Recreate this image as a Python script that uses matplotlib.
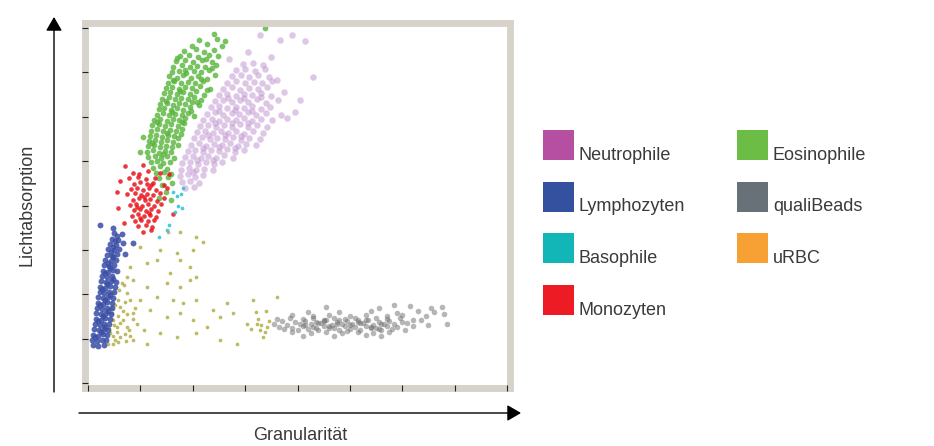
import numpy as np
import matplotlib
matplotlib.use("Agg")
import matplotlib.pyplot as plt
from matplotlib.patches import Rectangle, FancyArrowPatch

plt.rcParams['font.family'] = ['Liberation Sans', 'DejaVu Sans']

# Punktwolken (Granularität, Lichtabsorption)
eosinophile = [
    (2.40, 7.86), (2.12, 7.73), (2.47, 7.76), (2.62, 7.70), (3.38, 8.00),
    (1.98, 7.60), (2.28, 7.64), (2.55, 7.59),
    (1.84, 7.48), (2.06, 7.52), (2.22, 7.47), (2.40, 7.51),
    (1.76, 7.37), (1.93, 7.40), (2.10, 7.35), (2.31, 7.39), (2.49, 7.36),
    (1.68, 7.25), (1.86, 7.28), (2.01, 7.23), (2.17, 7.27), (2.36, 7.24),
    (1.63, 7.13), (1.79, 7.16), (1.95, 7.11), (2.08, 7.15), (2.24, 7.12), (2.45, 7.17),
    (1.60, 7.01), (1.73, 7.04), (1.88, 6.99), (2.02, 7.03), (2.15, 7.00), (2.31, 7.05),
    (1.55, 6.92), (1.69, 6.87), (1.82, 6.93), (1.96, 6.88), (2.10, 6.91), (2.27, 6.86), (2.42, 6.94),
    (1.52, 6.77), (1.64, 6.80), (1.77, 6.75), (1.90, 6.79), (2.04, 6.76), (2.19, 6.81),
    (1.48, 6.65), (1.60, 6.68), (1.73, 6.63), (1.86, 6.67), (1.99, 6.64), (2.13, 6.69), (2.33, 6.62),
    (1.45, 6.53), (1.57, 6.56), (1.69, 6.51), (1.81, 6.55), (1.94, 6.52), (2.07, 6.57), (2.22, 6.50),
    (1.42, 6.41), (1.54, 6.44), (1.66, 6.39), (1.78, 6.43), (1.90, 6.40), (2.03, 6.45), (2.15, 6.38),
    (1.38, 6.29), (1.50, 6.32), (1.62, 6.27), (1.74, 6.31), (1.86, 6.28), (1.98, 6.33), (2.12, 6.26),
    (1.35, 6.17), (1.46, 6.20), (1.58, 6.15), (1.70, 6.19), (1.82, 6.16), (1.94, 6.21),
    (1.31, 6.05), (1.43, 6.08), (1.55, 6.03), (1.67, 6.07), (1.79, 6.04), (1.91, 6.09), (2.02, 6.02),
    (1.26, 5.93), (1.38, 5.96), (1.50, 5.91), (1.62, 5.95), (1.74, 5.92), (1.86, 5.97),
    (1.23, 5.81), (1.35, 5.84), (1.47, 5.79), (1.59, 5.83), (1.71, 5.80), (1.83, 5.85),
    (1.20, 5.69), (1.32, 5.72), (1.44, 5.67), (1.56, 5.71), (1.68, 5.68), (1.80, 5.73),
    (1.18, 5.57), (1.30, 5.60), (1.42, 5.55), (1.53, 5.59), (1.65, 5.56), (1.77, 5.61),
    (1.16, 5.45), (1.28, 5.48), (1.39, 5.43), (1.51, 5.47), (1.62, 5.44),
    (1.14, 5.33), (1.26, 5.36), (1.37, 5.31), (1.49, 5.35), (1.60, 5.32), (1.72, 5.37),
    (1.12, 5.21), (1.24, 5.24), (1.35, 5.19), (1.47, 5.23), (1.58, 5.20), (1.00, 5.20),
    (1.15, 5.09), (1.27, 5.12), (1.39, 5.07), (1.51, 5.11), (1.64, 5.08),
    (1.20, 4.97), (1.32, 5.00), (1.44, 4.95), (1.56, 4.99),
    (1.25, 4.85), (1.38, 4.88), (1.50, 4.83),
    (1.30, 4.73), (1.45, 4.76), (1.58, 4.71),
    (1.36, 4.61), (1.52, 4.64), (1.42, 4.47), (1.60, 4.50),
    (1.48, 4.30), (1.35, 4.16), (1.58, 4.13), (1.05, 5.55),
    # Zwischenpunkte im dichten Kern
    (1.70, 7.32), (2.25, 7.31), (1.86, 7.06), (2.37, 7.09), (1.62, 6.83), (2.15, 6.84),
    (1.75, 6.58), (2.28, 6.60), (1.48, 6.35), (2.08, 6.34), (1.61, 6.11), (1.97, 6.12),
    (1.32, 5.88), (1.80, 5.89), (1.50, 5.63), (1.72, 5.51), (1.22, 5.40), (1.43, 5.15),
]

neutrophile = [
    (2.95, 7.19), (3.15, 7.22), (3.35, 7.17),
    (2.82, 7.05), (3.00, 7.08), (3.18, 7.03), (3.38, 7.07),
    (2.74, 6.91), (2.92, 6.94), (3.08, 6.89), (3.25, 6.93), (3.45, 6.90),
    (2.66, 6.77), (2.83, 6.80), (2.99, 6.75), (3.16, 6.79), (3.33, 6.76), (3.52, 6.81),
    (2.58, 6.63), (2.75, 6.66), (2.91, 6.61), (3.07, 6.65), (3.24, 6.62), (3.41, 6.67),
    (2.50, 6.49), (2.66, 6.52), (2.82, 6.47), (2.98, 6.51), (3.14, 6.48), (3.30, 6.53), (3.50, 6.46),
    (2.42, 6.35), (2.58, 6.38), (2.74, 6.33), (2.90, 6.37), (3.06, 6.34), (3.22, 6.39), (3.40, 6.32), (3.62, 6.37),
    (2.35, 6.21), (2.50, 6.24), (2.66, 6.19), (2.82, 6.23), (2.97, 6.20), (3.13, 6.25), (3.30, 6.18), (3.48, 6.23),
    (2.28, 6.07), (2.43, 6.10), (2.58, 6.05), (2.74, 6.09), (2.89, 6.06), (3.05, 6.11), (3.21, 6.04), (3.40, 6.09), (3.68, 6.05),
    (2.20, 5.93), (2.36, 5.96), (2.51, 5.91), (2.66, 5.95), (2.82, 5.92), (2.97, 5.97), (3.13, 5.90), (3.30, 5.95), (3.52, 5.92),
    (2.14, 5.79), (2.29, 5.82), (2.44, 5.77), (2.59, 5.81), (2.74, 5.78), (2.90, 5.83), (3.05, 5.76), (3.22, 5.81), (3.42, 5.78),
    (2.08, 5.65), (2.23, 5.68), (2.38, 5.63), (2.53, 5.67), (2.68, 5.64), (2.83, 5.69), (2.98, 5.62), (3.15, 5.67), (3.35, 5.64),
    (2.02, 5.51), (2.17, 5.54), (2.32, 5.49), (2.47, 5.53), (2.62, 5.50), (2.77, 5.55), (2.92, 5.48), (3.08, 5.53), (3.28, 5.50),
    (1.96, 5.37), (2.11, 5.40), (2.26, 5.35), (2.41, 5.39), (2.56, 5.36), (2.71, 5.41), (2.86, 5.34), (3.02, 5.39), (3.20, 5.36),
    (1.90, 5.23), (2.05, 5.26), (2.20, 5.21), (2.35, 5.25), (2.50, 5.22), (2.65, 5.27), (2.80, 5.20), (2.97, 5.25),
    (1.85, 5.09), (2.00, 5.12), (2.15, 5.07), (2.30, 5.11), (2.45, 5.08), (2.60, 5.13), (2.76, 5.06),
    (1.80, 4.95), (1.95, 4.98), (2.10, 4.93), (2.25, 4.97), (2.40, 4.94), (2.56, 4.99),
    (1.77, 4.81), (1.92, 4.84), (2.07, 4.79), (2.22, 4.83), (2.38, 4.80),
    (1.76, 4.67), (1.90, 4.70), (2.05, 4.65), (2.20, 4.69),
    (1.80, 4.53), (1.95, 4.56), (2.12, 4.51), (1.86, 4.39), (2.02, 4.42),
    (3.66, 7.73), (3.90, 7.84), (3.80, 5.97), (3.60, 6.82), (4.05, 6.37), (4.14, 7.70),
    (3.28, 7.84), (4.30, 6.90), (3.05, 7.45), (3.50, 7.35), (2.70, 7.30), (3.75, 6.55), (3.95, 6.10),
    # Zwischenpunkte im dichten Kern
    (2.67, 6.42), (2.98, 6.43), (3.30, 6.44), (2.51, 6.14), (2.81, 6.15), (3.13, 6.13),
    (2.43, 5.86), (2.74, 5.87), (3.05, 5.85), (2.30, 5.58), (2.61, 5.59), (2.92, 5.57),
    (2.19, 5.30), (2.50, 5.31), (2.81, 5.29), (2.08, 5.02), (2.38, 5.03), (2.00, 4.75),
]

monozyten = [
    (0.70, 4.89), (1.05, 4.92), (0.85, 4.74), (1.15, 4.77), (1.38, 4.73), (0.98, 4.70),
    (0.78, 4.61), (0.95, 4.64), (1.10, 4.60), (1.28, 4.63),
    (0.88, 4.49), (1.00, 4.52), (1.12, 4.48), (1.25, 4.51), (1.45, 4.47), (1.20, 4.46),
    (0.82, 4.37), (0.94, 4.40), (1.05, 4.36), (1.17, 4.39), (1.30, 4.35), (1.50, 4.40),
    (0.75, 4.25), (0.90, 4.28), (1.01, 4.24), (1.12, 4.27), (1.24, 4.23), (1.37, 4.28), (1.06, 4.20),
    (0.86, 4.13), (0.97, 4.16), (1.08, 4.12), (1.19, 4.15), (1.31, 4.11), (1.45, 4.16),
    (0.80, 4.01), (0.92, 4.04), (1.03, 4.00), (1.14, 4.03), (1.26, 3.99), (1.40, 4.04), (0.94, 3.97),
    (0.88, 3.89), (0.99, 3.92), (1.10, 3.88), (1.21, 3.91), (1.33, 3.87), (1.16, 3.84),
    (0.84, 3.77), (0.95, 3.80), (1.06, 3.76), (1.18, 3.79), (1.30, 3.75), (1.00, 3.72),
    (0.90, 3.65), (1.02, 3.68), (1.14, 3.64), (1.26, 3.67),
    (0.96, 3.53), (1.10, 3.56), (1.22, 3.52), (1.05, 3.41), (1.20, 3.44),
    (0.62, 4.55), (0.58, 3.95), (0.68, 3.60), (1.55, 4.70), (1.62, 3.80), (0.55, 4.30),
]

lymphozyten = [
    (0.10, 0.85), (0.20, 0.83), (0.30, 0.86), (0.08, 0.97), (0.17, 0.95), (0.26, 0.98), (0.35, 0.96),
    (0.14, 1.03), (0.10, 1.09), (0.19, 1.07), (0.28, 1.10), (0.37, 1.08), (0.24, 1.15),
    (0.12, 1.21), (0.21, 1.19), (0.30, 1.22), (0.39, 1.20), (0.33, 1.27),
    (0.13, 1.33), (0.22, 1.31), (0.31, 1.34), (0.40, 1.32), (0.20, 1.39),
    (0.15, 1.45), (0.24, 1.43), (0.33, 1.46), (0.42, 1.44), (0.29, 1.51),
    (0.16, 1.57), (0.25, 1.55), (0.34, 1.58), (0.43, 1.56), (0.38, 1.63),
    (0.18, 1.69), (0.27, 1.67), (0.36, 1.70), (0.45, 1.68), (0.23, 1.75),
    (0.19, 1.81), (0.28, 1.79), (0.37, 1.82), (0.46, 1.80), (0.33, 1.87),
    (0.20, 1.93), (0.29, 1.91), (0.38, 1.94), (0.48, 1.92), (0.42, 1.99),
    (0.22, 2.05), (0.31, 2.03), (0.40, 2.06), (0.50, 2.04), (0.27, 2.11),
    (0.23, 2.17), (0.32, 2.15), (0.42, 2.18), (0.52, 2.16), (0.37, 2.23),
    (0.25, 2.29), (0.34, 2.27), (0.44, 2.30), (0.54, 2.28), (0.47, 2.35),
    (0.27, 2.41), (0.36, 2.39), (0.46, 2.42), (0.32, 2.47),
    (0.29, 2.53), (0.38, 2.51), (0.48, 2.54), (0.56, 2.52), (0.42, 2.59),
    (0.31, 2.65), (0.40, 2.63), (0.50, 2.66), (0.38, 2.71),
    (0.33, 2.77), (0.43, 2.75), (0.53, 2.78), (0.48, 2.83),
    (0.36, 2.89), (0.46, 2.87), (0.56, 2.90), (0.44, 2.95),
    (0.39, 3.01), (0.49, 2.99), (0.60, 3.02), (0.47, 3.07),
    (0.42, 3.13), (0.53, 3.11), (0.52, 3.19), (0.46, 3.25), (0.58, 3.23), (0.55, 3.31),
    (0.50, 3.37), (0.64, 3.35), (0.48, 3.50),
    (0.23, 3.56), (0.67, 3.15), (0.86, 3.15), (0.70, 2.90),
]

basophile = [
    (1.62, 4.30), (1.70, 4.22), (1.78, 4.25), (1.72, 4.00), (1.80, 3.95),
    (1.66, 3.85), (1.55, 3.55), (1.50, 3.45), (1.82, 4.40), (1.36, 3.30),
]

urbc = [
    (1.53, 3.41), (1.76, 3.41), (2.07, 3.30), (2.20, 3.18), (1.37, 3.00), (1.69, 2.92),
    (2.01, 3.00), (0.99, 3.07), (1.12, 2.70), (0.80, 2.62), (1.31, 2.77), (1.76, 2.77),
    (1.95, 2.62), (1.56, 2.47), (2.07, 2.39), (0.86, 2.32), (1.12, 2.17), (1.50, 2.25),
    (1.76, 2.17), (1.95, 2.32), (0.74, 2.02), (0.99, 1.87), (1.31, 1.94), (1.63, 1.87),
    (1.82, 1.80), (2.07, 1.87), (2.39, 1.64), (2.65, 1.80), (3.15, 1.87), (3.60, 1.94),
    (0.61, 1.72), (0.86, 1.57), (1.18, 1.64), (1.50, 1.49), (1.76, 1.57), (2.01, 1.42),
    (2.27, 1.27), (2.52, 1.49), (2.77, 1.57), (3.03, 1.34), (3.28, 1.19), (0.48, 1.42),
    (0.74, 1.27), (1.06, 1.19), (1.37, 1.12), (1.69, 1.04), (2.07, 1.12), (2.52, 0.97),
    (2.84, 0.89), (0.61, 1.04), (0.86, 0.97), (1.12, 0.89), (0.48, 0.89), (0.42, 1.12),
    (0.55, 1.27), (0.45, 1.57), (0.67, 1.42), (0.58, 1.87), (0.48, 2.02), (0.64, 2.25),
    (0.74, 2.39), (0.52, 0.97), (0.39, 0.89), (0.80, 1.87), (0.93, 1.34), (3.41, 1.27),
    (3.22, 1.34), (3.35, 1.04), (0.55, 1.15), (0.62, 1.35), (0.70, 1.10), (0.50, 1.30),
    (0.58, 1.50), (0.66, 1.62), (0.52, 1.75), (0.75, 1.55), (0.70, 1.82), (0.60, 2.10),
    (0.44, 1.70), (0.78, 1.20), (0.85, 1.45), (0.72, 0.95), (0.57, 0.93), (0.90, 1.70),
    (0.68, 2.20), (0.40, 1.25), (0.47, 1.05), (0.80, 1.05), (3.25, 1.45), (3.30, 1.30),
    (3.38, 1.15), (3.45, 1.40), (3.20, 1.60), (3.40, 1.62), (3.12, 1.22),
]

qualibeads = [
    (4.20, 1.61), (4.80, 1.59), (5.40, 1.62), (5.90, 1.58), (6.30, 1.63), (6.60, 1.60),
    (4.55, 1.72), (5.55, 1.70), (6.15, 1.74), (6.55, 1.68), (6.75, 1.72), (5.85, 1.76),
    (3.90, 1.53), (4.30, 1.51), (4.60, 1.54), (5.00, 1.50), (5.30, 1.53), (5.70, 1.51),
    (6.00, 1.54), (6.45, 1.52), (6.80, 1.55),
    (3.60, 1.45), (3.85, 1.47), (4.10, 1.44), (4.30, 1.46), (4.50, 1.43), (4.70, 1.47),
    (4.90, 1.44), (5.10, 1.46), (5.30, 1.43), (5.50, 1.47), (5.70, 1.44), (5.95, 1.46), (6.20, 1.43),
    (3.70, 1.39), (3.95, 1.37), (4.15, 1.40), (4.35, 1.38), (4.55, 1.41), (4.75, 1.37),
    (4.95, 1.40), (5.15, 1.38), (5.35, 1.41), (5.55, 1.37), (5.75, 1.40), (6.00, 1.38), (6.35, 1.41),
    (3.55, 1.33), (3.80, 1.31), (4.05, 1.34), (4.25, 1.32), (4.45, 1.35), (4.65, 1.31),
    (4.85, 1.34), (5.05, 1.32), (5.25, 1.35), (5.45, 1.31), (5.65, 1.34), (5.85, 1.32),
    (6.10, 1.35), (6.50, 1.31), (6.85, 1.34),
    (3.65, 1.27), (3.90, 1.25), (4.10, 1.28), (4.30, 1.26), (4.50, 1.29), (4.70, 1.25),
    (4.90, 1.28), (5.10, 1.26), (5.30, 1.29), (5.50, 1.25), (5.70, 1.28), (5.90, 1.26), (6.20, 1.28),
    (3.75, 1.21), (4.00, 1.19), (4.20, 1.22), (4.40, 1.20), (4.60, 1.23), (4.80, 1.19),
    (5.00, 1.22), (5.20, 1.20), (5.40, 1.23), (5.60, 1.19), (5.80, 1.22), (6.05, 1.20),
    (3.90, 1.14), (4.25, 1.12), (4.55, 1.15), (4.85, 1.13), (5.15, 1.16), (5.45, 1.12), (5.75, 1.15),
    (4.10, 1.07), (4.70, 1.05), (5.30, 1.08), (5.60, 1.06),
    (4.15, 1.30), (4.40, 1.36), (4.60, 1.28), (4.80, 1.41), (5.00, 1.30), (5.20, 1.36),
    (5.40, 1.27), (5.60, 1.33), (4.35, 1.24), (4.75, 1.33), (5.15, 1.42), (5.55, 1.21),
    (4.95, 1.17), (4.50, 1.39),
]

legend_labels = ['Neutrophile', 'Lymphozyten', 'Basophile', 'Monozyten',
                 'Eosinophile', 'qualiBeads', 'uRBC']
legend_colors = ['#b64fa2', '#3451a0', '#13b6b6', '#ed1c24',
                 '#6bbd45', '#687177', '#f7a033']

W, H = 934, 446
fig = plt.figure(figsize=(W / 100, H / 100), dpi=100)


def fx(px):
    return px / W


def fy(py):
    return 1 - py / H


# Achsenrahmen: weiße Fläche 88..507 px, dicker grauer Rand
ax = fig.add_axes([fx(85), fy(388), fx(510) - fx(85), fy(22.5) - fy(388)])
ax.set_xlim(-3 / 52.375, 8 + 3 / 52.375)
ax.set_ylim(-5 / 44.375, 8 + 5.5 / 44.375)

layers = [
    (urbc, '#b2ae45', 0.85, 7),
    (qualibeads, '#6e6e6e', 0.5, 16),
    (neutrophile, '#c49ad3', 0.55, 22),
    (eosinophile, '#58b43c', 0.8, 17),
    (monozyten, '#e8141c', 0.85, 11),
    (basophile, '#35c3da', 0.9, 7),
    (lymphozyten, '#3a4ea6', 0.85, 18),
]
for pts, col, a, s in layers:
    arr = np.array(pts)
    ax.scatter(arr[:, 0], arr[:, 1], s=s, c=col, alpha=a, linewidths=0)

ax.set_xticks(range(9))
ax.set_yticks(range(9))
ax.set_xticklabels([])
ax.set_yticklabels([])
ax.tick_params(direction='inout', length=5, width=0.8, color='#222222')
for sp in ax.spines.values():
    sp.set_linewidth(5)
    sp.set_color('#d7d2ca')
    sp.set_zorder(1)

# Pfeile der Achsen
arrow_style = '-|>,head_length=0.6,head_width=0.35'
fig.add_artist(FancyArrowPatch((fx(54), fy(392)), (fx(54), fy(17)), transform=fig.transFigure,
                               arrowstyle=arrow_style, mutation_scale=14, color='black',
                               lw=1, shrinkA=0, shrinkB=0))
fig.add_artist(FancyArrowPatch((fx(79), fy(413)), (fx(521), fy(413)), transform=fig.transFigure,
                               arrowstyle=arrow_style, mutation_scale=14, color='black',
                               lw=1, shrinkA=0, shrinkB=0))

fig.text(fx(27), fy(205), 'Lichtabsorption', rotation=90, ha='center', va='center',
         fontsize=13, color='#3a3a3a')
fig.text(fx(300), fy(435), 'Granularität', ha='center', va='center',
         fontsize=13, color='#3a3a3a')

# Legende: zwei Spalten
for i, (lab, col) in enumerate(zip(legend_labels, legend_colors)):
    c, r = divmod(i, 4)
    x0 = 543 + 194 * c
    top = 130 + 51.7 * r
    fig.add_artist(Rectangle((fx(x0), fy(top + 30)), fx(31), 30 / H,
                             transform=fig.transFigure, facecolor=col, edgecolor='none'))
    fig.text(fx(x0 + 36), fy(top + 29.5), lab, ha='left', va='baseline',
             fontsize=13, color='#3a3a3a')

fig.savefig('out.png', dpi=100)
